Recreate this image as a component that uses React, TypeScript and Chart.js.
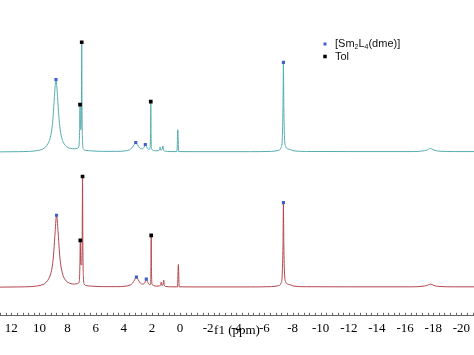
import { useEffect, useRef } from "react";
import { Chart, registerables } from "chart.js";
Chart.register(...registerables);

// ---- axis ----
const X_MIN = -20.9;
const X_MAX = 12.8;
const TICK_LABELS = [12, 10, 8, 6, 4, 2, 0, -2, -4, -6, -8, -10, -12, -14, -16, -18, -20];
const MINOR_STEP = 0.4;
const AXIS_TITLE = "f1 (ppm)";

// ---- top spectrum (teal) ----
const TOP_PPM = [12.8, 11.5, 10.7, 10.2, 9.8, 9.55, 9.4, 9.25, 9.12, 9.02, 8.93, 8.82, 8.71, 8.62, 8.52, 8.39, 8.24, 8.05, 7.8, 7.5, 7.3, 7.18, 7.14, 7.11, 7.08, 7.04, 7.01, 6.99, 6.97, 6.93, 6.87, 6.7, 6.3, 5.5, 4.5, 3.9, 3.6, 3.42, 3.27, 3.15, 3.03, 2.88, 2.72, 2.58, 2.47, 2.37, 2.24, 2.14, 2.1, 2.08, 2.06, 2.02, 1.9, 1.72, 1.55, 1.46, 1.42, 1.38, 1.28, 1.22, 1.17, 1.05, 0.7, 0.22, 0.16, 0.1, -1, -5, -6.5, -7.0, -7.18, -7.27, -7.32, -7.35, -7.38, -7.43, -7.52, -7.65, -7.8, -8.1, -9, -12, -16.5, -17.2, -17.55, -17.8, -18.05, -18.4, -19.5, -20.9];
const TOP_INT = [0, 0.2, 0.5, 1.2, 2.5, 5, 8, 13, 22, 36, 55, 72, 55, 36, 22, 13, 8, 5, 3.5, 3, 3.5, 6, 22, 47, 24, 22, 45, 109, 45, 10, 3, 1.5, 1, 0.5, 0.5, 1, 2, 4, 7, 9.3, 7, 4, 3, 4, 7.3, 5, 2.5, 3, 18, 50, 18, 3, 1.5, 1, 1.2, 1.8, 5, 1.8, 2, 6, 1.5, 0.7, 0.3, 0.3, 22, 0.3, 0.2, 0.2, 0.5, 1.5, 4, 14, 45, 89, 45, 14, 5, 3, 2.5, 1, 0.4, 0.3, 0.3, 0.8, 1.8, 3.5, 1.8, 0.7, 0.3, 0.3];

// ---- bottom spectrum (red) ----
const BOT_PPM = [12.8, 11.5, 10.65, 10.15, 9.75, 9.5, 9.35, 9.2, 9.07, 8.97, 8.88, 8.78, 8.67, 8.58, 8.48, 8.35, 8.2, 8.0, 7.75, 7.5, 7.3, 7.16, 7.12, 7.09, 7.06, 7.0, 6.96, 6.93, 6.91, 6.87, 6.81, 6.65, 6.3, 5.5, 4.5, 3.85, 3.55, 3.37, 3.22, 3.1, 2.98, 2.82, 2.65, 2.5, 2.4, 2.3, 2.18, 2.09, 2.07, 2.05, 2.03, 1.99, 1.88, 1.7, 1.5, 1.39, 1.34, 1.29, 1.22, 1.16, 1.11, 1.0, 0.7, 0.18, 0.12, 0.06, -1, -5, -6.5, -7.0, -7.18, -7.27, -7.32, -7.35, -7.38, -7.43, -7.52, -7.65, -7.8, -8.1, -9, -12, -16.5, -17.2, -17.55, -17.8, -18.05, -18.4, -19.5, -20.9];
const BOT_INT = [0, 0.2, 0.5, 1.2, 2.5, 5, 8, 13, 22, 36, 55, 71.5, 55, 36, 22, 13, 8, 5, 3.5, 3, 3.5, 6, 22, 46.5, 24, 22, 45, 110, 45, 10, 3, 1.5, 1, 0.5, 0.5, 1, 2, 4, 7.5, 10, 7.5, 4, 3, 4.5, 8, 5, 2.5, 3, 18, 51.5, 18, 3, 1.5, 1, 1.2, 1.8, 5, 1.8, 2, 7, 1.5, 0.7, 0.3, 0.3, 22.5, 0.3, 0.2, 0.2, 0.5, 1.5, 4, 14, 42, 84, 42, 14, 5, 3, 2.5, 1, 0.4, 0.3, 0.3, 0.8, 1.6, 3, 1.6, 0.7, 0.3, 0.3];

// ---- peak markers ----
const TOP_SM_PPM = [8.82, 3.15, 2.47, -7.35];
const TOP_SM_INT = [72, 9.3, 7.3, 89];
const TOP_TOL_PPM = [6.99, 7.11, 2.08];
const TOP_TOL_INT = [109, 47, 50];
const BOT_SM_PPM = [8.78, 3.1, 2.4, -7.35];
const BOT_SM_INT = [71.5, 10, 8, 84];
const BOT_TOL_PPM = [6.93, 7.09, 2.05];
const BOT_TOL_INT = [110, 46.5, 51.5];

const LEGEND_SM = ["[Sm", "2", "L", "4", "(dme)]"];
const LEGEND_TOL = "Tol";

const TEAL = "#55adb0";
const RED = "#b4474c";
const BLUE = "#3d5fd0";
const BLACK = "#000000";

const pts = (xs: number[], ys: number[]) => xs.map((x, i) => ({ x, y: ys[i] }));

const overlayPlugin = {
  id: "overlay",
  afterDraw(chart: any) {
    const ctx = chart.ctx;
    const xs = chart.scales.x;
    const y0 = chart.chartArea.bottom;
    ctx.save();
    // upward minor ticks on the axis
    ctx.strokeStyle = "#666";
    ctx.lineWidth = 1;
    ctx.beginPath();
    for (const t of xs.ticks) {
      const px = Math.round(xs.getPixelForValue(t.value)) + 0.5;
      ctx.moveTo(px, y0);
      ctx.lineTo(px, y0 - 3);
    }
    ctx.stroke();
    // legend
    const lx = 325;
    ctx.fillStyle = BLUE;
    ctx.fillRect(lx - 1.5, 44 - 1.5, 3, 3);
    ctx.fillStyle = BLACK;
    ctx.fillRect(lx - 1.75, 56.5 - 1.75, 3.5, 3.5);
    ctx.fillStyle = "#111";
    ctx.textBaseline = "middle";
    ctx.textAlign = "left";
    let x = 335;
    LEGEND_SM.forEach((s, i) => {
      const sub = i % 2 === 1;
      ctx.font = sub ? "7px 'Liberation Sans'" : "11px 'Liberation Sans'";
      ctx.fillText(s, x, sub ? 47 : 44);
      x += ctx.measureText(s).width;
    });
    ctx.font = "11px 'Liberation Sans'";
    ctx.fillText(LEGEND_TOL, 335, 56.5);
    ctx.restore();
  },
};

export default function App() {
  const ref = useRef<HTMLCanvasElement>(null);
  useEffect(() => {
    document.body.style.margin = "0";
    const chart = new Chart(ref.current!, {
      type: "line",
      data: {
        datasets: [
          { type: "scatter", data: pts(TOP_TOL_PPM, TOP_TOL_INT), yAxisID: "yTop", pointStyle: "rect", pointRadius: 2.6, backgroundColor: BLACK, borderWidth: 0, order: 0 } as any,
          { type: "scatter", data: pts(TOP_SM_PPM, TOP_SM_INT), yAxisID: "yTop", pointStyle: "rect", pointRadius: 2.2, backgroundColor: BLUE, borderWidth: 0, order: 0 } as any,
          { type: "scatter", data: pts(BOT_TOL_PPM, BOT_TOL_INT), yAxisID: "yBot", pointStyle: "rect", pointRadius: 2.6, backgroundColor: BLACK, borderWidth: 0, order: 0 } as any,
          { type: "scatter", data: pts(BOT_SM_PPM, BOT_SM_INT), yAxisID: "yBot", pointStyle: "rect", pointRadius: 2.2, backgroundColor: BLUE, borderWidth: 0, order: 0 } as any,
          { data: pts(TOP_PPM, TOP_INT), yAxisID: "yTop", borderColor: TEAL, borderWidth: 1, pointRadius: 0, cubicInterpolationMode: "monotone", order: 1 } as any,
          { data: pts(BOT_PPM, BOT_INT), yAxisID: "yBot", borderColor: RED, borderWidth: 1, pointRadius: 0, cubicInterpolationMode: "monotone", order: 1 } as any,
        ],
      },
      options: {
        animation: false,
        responsive: false,
        devicePixelRatio: 1,
        layout: { padding: 0, autoPadding: false },
        plugins: { legend: { display: false }, tooltip: { enabled: false } },
        scales: {
          x: {
            type: "linear",
            reverse: true,
            min: X_MIN,
            max: X_MAX,
            afterBuildTicks: (scale: any) => {
              const ticks = [];
              for (let k = Math.ceil(X_MIN / MINOR_STEP); k <= Math.floor(X_MAX / MINOR_STEP); k++) {
                ticks.push({ value: Math.round(k * MINOR_STEP * 10) / 10 });
              }
              scale.ticks = ticks;
            },
            ticks: {
              autoSkip: false,
              maxRotation: 0,
              minRotation: 0,
              padding: 5,
              color: "#000",
              font: { family: "'Liberation Serif'", size: 13 },
              callback: (v: any) => {
                const r = Math.round(Number(v) * 10) / 10;
                return TICK_LABELS.includes(r) ? String(r) : "";
              },
            },
            grid: { display: false, drawTicks: false },
            border: { display: true, color: "#666", width: 1 },
            title: {
              display: true,
              text: AXIS_TITLE,
              color: "#000",
              font: { family: "'Liberation Serif'", size: 13 },
              padding: { top: -19, bottom: 17 },
            },
          },
          yTop: { type: "linear", display: false, min: -163, max: 151 },
          yBot: { type: "linear", display: false, min: -28.5, max: 285.5 },
        },
      },
      plugins: [overlayPlugin],
    });
    return () => chart.destroy();
  }, []);
  return (
    <div style={{ width: 474, height: 355 }}>
      <canvas ref={ref} width={474} height={355} />
    </div>
  );
}
